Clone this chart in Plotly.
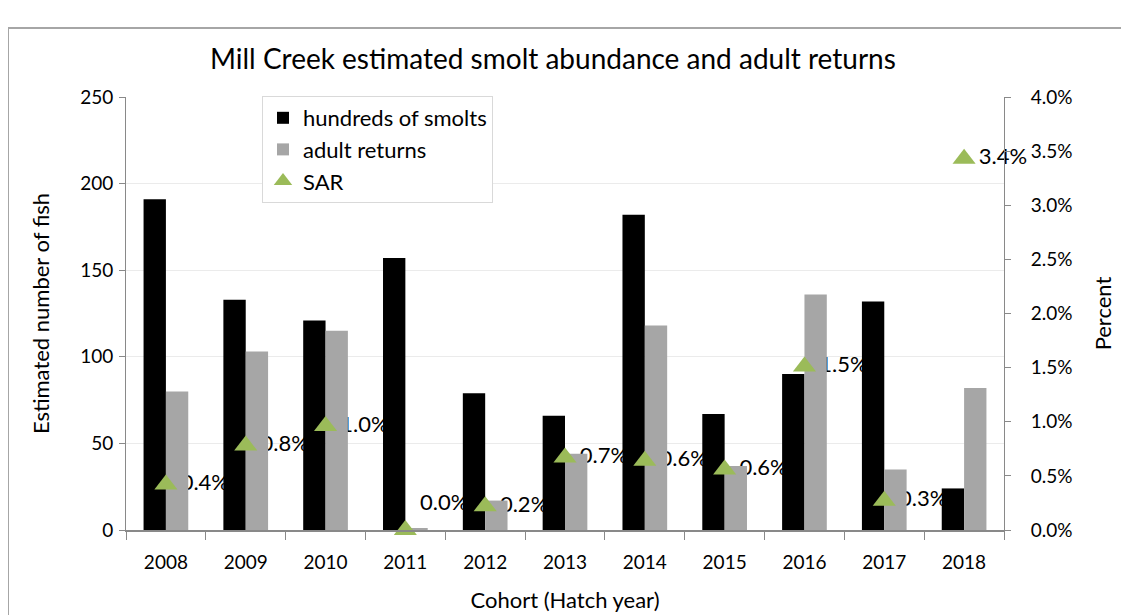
import plotly.graph_objects as go

years = ['2008', '2009', '2010', '2011', '2012', '2013', '2014', '2015', '2016', '2017', '2018']
smolts_hundreds = [191, 133, 121, 157, 79, 66, 182, 67, 90, 132, 24]
adult_returns = [80, 103, 115, 1, 17, 44, 118, 37, 136, 35, 82]
sar = [0.0042, 0.0078, 0.0096, 0.0, 0.0022, 0.0067, 0.0064, 0.0056, 0.0151, 0.0027, 0.0343]

left_ticks = [0, 50, 100, 150, 200, 250]
right_ticks = [0, 0.005, 0.01, 0.015, 0.02, 0.025, 0.03, 0.035, 0.04]
right_ticktext = [f"{v*100:.1f}%" for v in right_ticks]
sar_labels = [f"{v*100:.1f}%" for v in sar]

FONT = "Lato"
AX = "#898989"
TXT = "#000000"

fig = go.Figure()

# labels (drawn beneath bars)
fig.add_trace(go.Scatter(
    x=years, y=sar, mode="markers+text", text=sar_labels,
    textposition=["top right" if v == 0 else "middle right" for v in sar],
    textfont=dict(family=FONT, size=22, color=TXT),
    marker=dict(size=22, color="rgba(0,0,0,0)"),
    xaxis="x", yaxis="y", showlegend=False, hoverinfo="skip", cliponaxis=False,
))

fig.add_trace(go.Bar(x=years, y=smolts_hundreds, name="hundreds of smolts",
                     marker=dict(color="#000000", line=dict(width=0)),
                     xaxis="x", yaxis="y2"))
fig.add_trace(go.Bar(x=years, y=adult_returns, name="adult returns",
                     marker=dict(color="#A6A6A6", line=dict(width=0)),
                     xaxis="x", yaxis="y2"))
fig.add_trace(go.Scatter(x=years, y=sar, mode="markers", name="SAR",
                         marker=dict(symbol="triangle-up", size=20, color="#9BBB59"),
                         xaxis="x", yaxis="y3", cliponaxis=False))

# page body has an 8px margin: work in reference coords minus 8
OFF = 8
W, H = 1129 - OFF, 615 - OFF
L, R, T, B = 126 - OFF, W - (1004 - OFF), 97 - OFF, H - (530 - OFF)
pw, ph = W - L - R, H - T - B

def px(x):
    return (x - OFF - L) / pw

def py(y):
    return (H - B - (y - OFF)) / ph

fig.update_layout(
    width=W, height=H,
    margin=dict(l=L, r=R, t=T, b=B, autoexpand=False),
    paper_bgcolor="white", plot_bgcolor="white",
    font=dict(family=FONT, size=19, color=TXT),
    barmode="group", bargap=0.44, bargroupgap=0,
    showlegend=True,
    legend=dict(x=px(262), y=py(96), xanchor="left", yanchor="top",
                bgcolor="white", bordercolor="#D9D9D9", borderwidth=1,
                font=dict(family=FONT, size=22, color=TXT),
                tracegroupgap=0, itemwidth=30),
    xaxis=dict(type="category", range=[-0.5, len(years) - 0.5], showline=True, linecolor=AX, linewidth=2,
               automargin=False, ticklabelstandoff=14,
               ticks="outside", tickson="boundaries", ticklen=8, tickcolor=AX, tickwidth=1,
               showgrid=False, tickfont=dict(family=FONT, size=19, color=TXT),
               title=dict(text="Cohort (Hatch year)", font=dict(family=FONT, size=22, color=TXT), standoff=21)),
    yaxis=dict(range=[0, 0.04], visible=False, showgrid=False, fixedrange=True),
    yaxis2=dict(range=[0, 250], overlaying="y", side="left", tickvals=left_ticks, automargin=False,
                ticklabelstandoff=2,
                showline=True, linecolor=AX, linewidth=1, ticks="outside", ticklen=6, tickcolor=AX,
                showgrid=True, gridcolor="#EBEBEB", gridwidth=1, zeroline=False,
                tickfont=dict(family=FONT, size=19, color=TXT),
                title=dict(text="Estimated number of fish", font=dict(family=FONT, size=22, color=TXT), standoff=24)),
    yaxis3=dict(range=[0, 0.04], overlaying="y", side="right", tickvals=right_ticks, ticktext=right_ticktext,
                automargin=False, ticklabelstandoff=16,
                showline=True, linecolor=AX, linewidth=1, ticks="outside", ticklen=6, tickcolor=AX,
                showgrid=False, zeroline=False,
                tickfont=dict(family=FONT, size=19, color=TXT),
                title=dict(text="Percent", font=dict(family=FONT, size=22, color=TXT), standoff=24)),
    annotations=[dict(text="Mill Creek estimated smolt abundance and adult returns",
                      xref="paper", yref="paper", x=px(553), y=py(58), xanchor="center", yanchor="middle",
                      showarrow=False, font=dict(family=FONT, size=28, color=TXT))],
    shapes=[dict(type="rect", xref="paper", yref="paper", x0=px(8), x1=px(1160), y0=py(650), y1=py(28),
                 line=dict(color="#A6A6A6", width=2), fillcolor="rgba(0,0,0,0)", layer="below")],
)

fig.write_html("out.html")
